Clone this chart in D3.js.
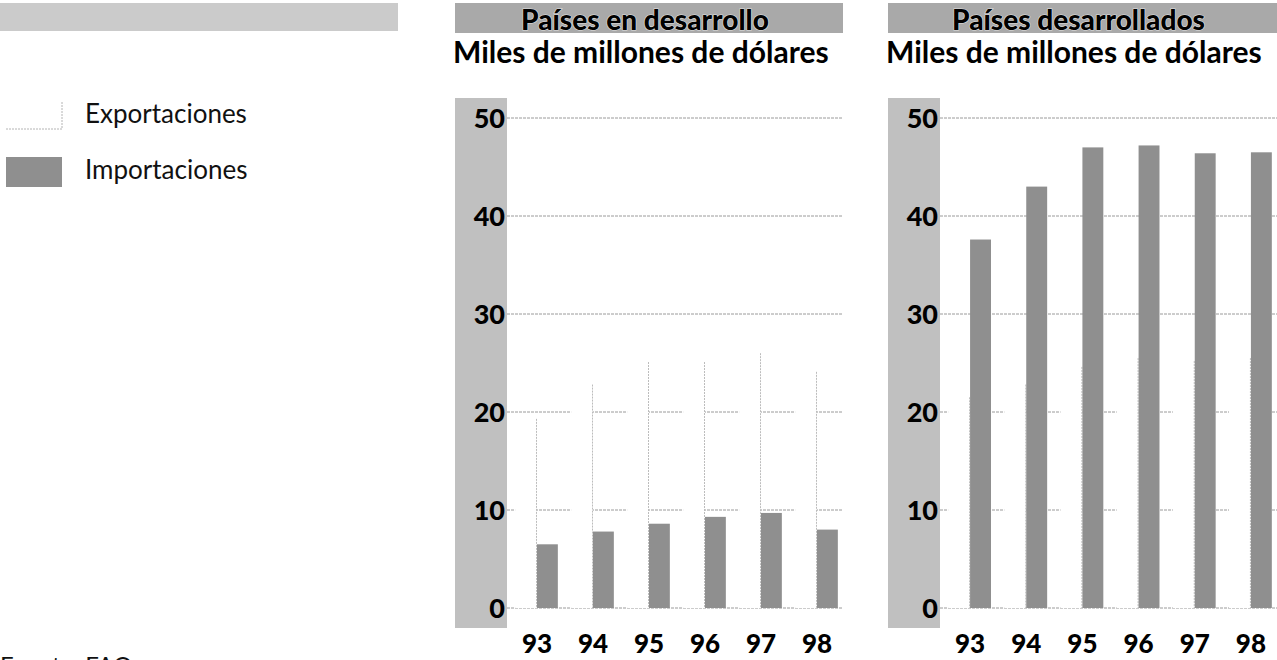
<!DOCTYPE html>
<html>
<head>
<meta charset="utf-8">
<script src="https://cdn.jsdelivr.net/npm/d3@7"></script>
<style>
  html, body { margin: 0; padding: 0; background: #fff; }
  svg { display: block; }
</style>
</head>
<body>
<svg id="chart" width="1277" height="660"></svg>
<script>
// Fish trade, billions of US dollars, 1993-1998
const years = ["93", "94", "95", "96", "97", "98"];
const yTicks = [0, 10, 20, 30, 40, 50];

const developingExports = [19.3, 22.8, 25.1, 25.1, 26.0, 24.1];
const developingImports = [6.5, 7.8, 8.6, 9.3, 9.7, 8.0];
const developedExports = [21.5, 22.8, 24.6, 25.5, 25.2, 25.5];
const developedImports = [37.6, 43.0, 47.0, 47.2, 46.4, 46.5];

const panelTitles = ["Países en desarrollo", "Países desarrollados"];
const unitLabel = "Miles de millones de dólares";
const seriesNames = ["Exportaciones", "Importaciones"];
const sourceNote = "Fuente: FAO";

const svg = d3.select("#chart");
const FONT = "Lato, 'Open Sans', sans-serif";
const bandGray = "#c0c0c0";
const headGray = "#a9a9a9";
const barGray = "#8f8f8f";
const gridGray = "#9a9a9a";

// Legend block
svg.append("rect").attr("x", 0).attr("y", 3).attr("width", 398).attr("height", 28).attr("fill", "#cbcbcb");

const legend = svg.append("g");
const legendRows = [
  { name: seriesNames[0], y: 101, kind: "exp" },
  { name: seriesNames[1], y: 157, kind: "imp" }
];
legendRows.forEach(r => {
  if (r.kind === "exp") {
    legend.append("rect").attr("x", 6).attr("y", r.y).attr("width", 56).attr("height", 28).attr("fill", "#fff");
    legend.append("path")
      .attr("d", `M6,${r.y + 28}H62V${r.y}`)
      .attr("fill", "none").attr("stroke", "#b4b4b4").attr("stroke-width", 1)
      .attr("stroke-dasharray", "2,1");
  } else {
    legend.append("rect").attr("x", 6).attr("y", r.y).attr("width", 56).attr("height", 30).attr("fill", barGray);
  }
  legend.append("text").attr("x", 85).attr("y", r.y + 22)
    .attr("font-family", FONT).attr("font-size", 26).attr("fill", "#111")
    .text(r.name);
});

// source note sits at the very bottom edge
svg.append("text").attr("x", 0).attr("y", 674)
  .attr("font-family", FONT).attr("font-size", 24).attr("fill", "#111")
  .text(sourceNote);

// One panel per country group
const panels = [
  { title: panelTitles[0], band: 455, plotL: 507, plotR: 843, exp: developingExports, imp: developingImports },
  { title: panelTitles[1], band: 888, plotL: 940, plotR: 1277, exp: developedExports, imp: developedImports }
];

const yTop = 118, yBase = 608;
const y = d3.scaleLinear().domain([0, 50]).range([yBase, yTop]);

panels.forEach(p => {
  const g = svg.append("g");

  // header band with title
  g.append("rect").attr("x", p.band).attr("y", 3).attr("width", p.plotR - p.band).attr("height", 30).attr("fill", headGray);
  g.append("text").attr("x", (p.band + p.plotR) / 2 - 4).attr("y", 30)
    .attr("text-anchor", "middle")
    .attr("font-family", FONT).attr("font-weight", 900).attr("font-size", 28)
    .attr("fill", "#000").attr("stroke", "#e0e0e0").attr("stroke-width", 1.2)
    .attr("paint-order", "stroke")
    .text(p.title);

  g.append("text").attr("x", p.band - 2).attr("y", 63)
    .attr("font-family", FONT).attr("font-weight", 700).attr("font-size", 30)
    .attr("fill", "#000")
    .text(unitLabel);

  // axis band
  g.append("rect").attr("x", p.band).attr("y", 98).attr("width", p.plotL - p.band).attr("height", 530).attr("fill", bandGray);

  // gridlines
  g.append("g").selectAll("line").data(yTicks).join("line")
    .attr("x1", p.plotL).attr("x2", p.plotR)
    .attr("y1", d => y(d)).attr("y2", d => y(d))
    .attr("stroke", gridGray).attr("stroke-width", 1).attr("stroke-dasharray", "3,1");

  // y tick labels
  g.append("g").selectAll("text").data(yTicks).join("text")
    .attr("x", p.plotL - 2).attr("y", d => y(d)).attr("dy", "0.36em")
    .attr("text-anchor", "end")
    .attr("font-family", FONT).attr("font-weight", 900).attr("font-size", 27)
    .attr("fill", "#000")
    .text(d => d);

  const x = d3.scaleBand().domain(years).range([p.plotL + 2, p.plotR + 2]).paddingInner(0.22).paddingOuter(0.11);
  const half = x.bandwidth() / 2;

  // exports: white bars with a thin shadow edge on the right
  const ex = g.append("g").selectAll("g").data(years).join("g");
  ex.append("rect")
    .attr("x", d => x(d)).attr("width", half)
    .attr("y", (d, i) => y(p.exp[i])).attr("height", (d, i) => yBase - y(p.exp[i]))
    .attr("fill", "#fff");
  ex.append("line")
    .attr("x1", d => x(d) + half - 0.5).attr("x2", d => x(d) + half - 0.5)
    .attr("y1", (d, i) => y(p.exp[i])).attr("y2", yBase)
    .attr("stroke", "#bcbcbc").attr("stroke-width", 1).attr("stroke-dasharray", "2,1");

  // imports: gray bars
  g.append("g").selectAll("rect").data(years).join("rect")
    .attr("x", d => x(d) + half).attr("width", half - 1)
    .attr("y", (d, i) => y(p.imp[i])).attr("height", (d, i) => yBase - y(p.imp[i]))
    .attr("fill", barGray);

  // year labels
  g.append("g").selectAll("text").data(years).join("text")
    .attr("x", d => x(d) + half).attr("y", 653)
    .attr("text-anchor", "middle")
    .attr("font-family", FONT).attr("font-weight", 900).attr("font-size", 26)
    .attr("fill", "#000")
    .text(d => d);
});
</script>
</body>
</html>
